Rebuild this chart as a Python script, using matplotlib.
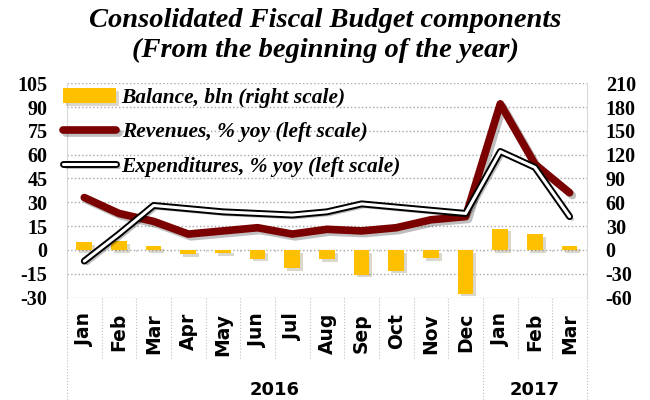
import numpy as np
import matplotlib.pyplot as plt
import matplotlib.patheffects as pe
import matplotlib.transforms as mtransforms

# data
months = ["Jan", "Feb", "Mar", "Apr", "May", "Jun", "Jul", "Aug", "Sep", "Oct", "Nov", "Dec",
          "Jan", "Feb", "Mar"]
years = ["2016", "2017"]
year_counts = [12, 3]

balance = [10, 11, 5, -5, -4, -11, -23, -12, -31, -26, -10, -55, 27, 20, 5]       # bln, right scale
revenues = [33, 23, 18, 10, 12, 14, 10, 13, 12, 14, 19, 21, 92, 54, 36]            # % yoy, left scale
expenditures = [-7, 10, 28, 26, 24, 23, 22, 24, 29, 27, 25, 23, 62, 52, 21]        # % yoy, left scale

plt.rcParams["axes.unicode_minus"] = False
serif = "Liberation Serif"
x = np.arange(len(months))

fig = plt.figure(figsize=(6.5, 4), dpi=100)
ax = fig.add_axes([0.103, 0.256, 0.8, 0.536])
ax2 = ax.twinx()

# bars on the right scale
bars = ax2.bar(x, balance, width=0.45, color="#FFC000", label="Balance, bln (right scale)", zorder=2,
               path_effects=[pe.SimplePatchShadow(offset=(2, -2), alpha=0.2), pe.Normal()])
ax2.set_ylim(-60, 210)
ax2.set_yticks(np.arange(-60, 211, 30))

# lines belong to the left scale; right scale is exactly 2x the left one
rev_line, = ax2.plot(x, np.array(revenues) * 2, color="#7B0000", lw=5.5, solid_capstyle="round",
                     solid_joinstyle="round", label="Revenues, % yoy (left scale)", zorder=3,
                     path_effects=[pe.SimpleLineShadow(offset=(2, -2), alpha=0.25), pe.Normal()])
exp_line, = ax2.plot(x, np.array(expenditures) * 2, color="white", lw=2.2, solid_capstyle="round",
                     solid_joinstyle="round", label="Expenditures, % yoy (left scale)", zorder=4,
                     path_effects=[pe.SimpleLineShadow(offset=(2, -2), alpha=0.25),
                                   pe.Stroke(linewidth=5, foreground="black"), pe.Normal()])

ax.set_ylim(-30, 105)
ax.set_yticks(np.arange(-30, 106, 15))
ax.set_xlim(-0.5, len(months) - 0.5)
ax.grid(axis="y", linestyle=":", color="#A6A6A6", lw=1)
ax.set_axisbelow(True)

for a, p in ((ax, 14), (ax2, 13.5)):
    for s in a.spines.values():
        s.set_visible(False)
    a.tick_params(axis="y", length=0, pad=p)
    for lab in a.get_yticklabels():
        lab.set_fontfamily(serif)
        lab.set_fontweight("bold")
        lab.set_fontsize(14.5)
ax.spines["left"].set_visible(True)
ax.spines["left"].set_color("#D9D9D9")
ax2.spines["right"].set_visible(True)
ax2.spines["right"].set_color("#D9D9D9")

# month labels
ax.set_xticks(x)
ax.set_xticklabels(months, rotation=90, fontsize=13.5, fontweight="bold", fontfamily="DejaVu Sans")
ax.tick_params(axis="x", length=0, pad=11)

# category separators below the axis and small ticks on the zero line
trans = mtransforms.blended_transform_factory(ax.transData, ax.transAxes)
ends = np.cumsum([0] + year_counts) - 0.5
for b in np.arange(-0.5, len(months), 1.0):
    low = -0.49 if b in ends else -0.28
    ax.plot([b, b], [0, low], transform=trans, clip_on=False, color="#BFBFBF", lw=0.8, ls=":")
    ax.plot([b, b], [0, -2], color="#A6A6A6", lw=0.8, ls=":")

# year labels
for i, yr in enumerate(years):
    mid = (ends[i] + ends[i + 1]) / 2
    ax.text(mid, -0.43, yr, transform=trans, ha="center", va="center", fontsize=13,
            fontweight="bold", fontfamily="DejaVu Sans")

leg = ax2.legend(handles=[bars, rev_line, exp_line], loc="upper left", bbox_to_anchor=(-0.045, 1.068),
                 frameon=False, handlelength=2.5, handletextpad=0.25, labelspacing=0.68,
                 prop={"family": serif, "style": "italic", "weight": "bold", "size": 15.4})

fig.text(0.5, 0.948, "Consolidated Fiscal Budget components", ha="center", va="center",
         fontfamily=serif, fontstyle="italic", fontweight="bold", fontsize=20.5)
fig.text(0.5, 0.874, "(From the beginning of the year)", ha="center", va="center",
         fontfamily=serif, fontstyle="italic", fontweight="bold", fontsize=20.5)

plt.savefig("out.png", dpi=100)
